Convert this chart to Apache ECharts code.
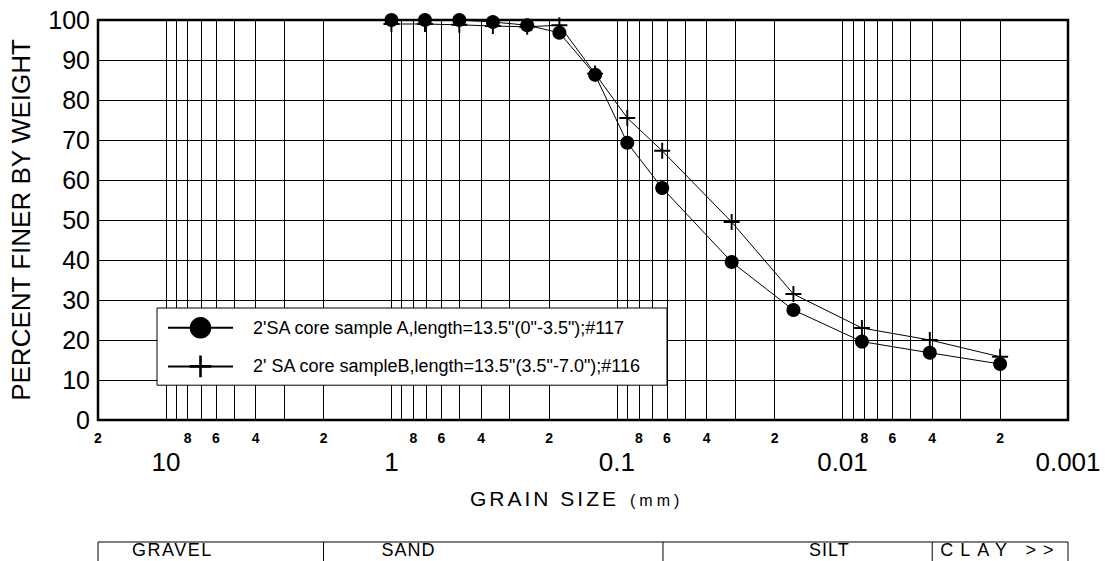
<!DOCTYPE html>
<html><head><meta charset="utf-8">
<script src="https://cdn.jsdelivr.net/npm/echarts@6/dist/echarts.min.js"></script>
<style>html,body{margin:0;padding:0;background:#fff}#c{width:1105px;height:561px}</style>
</head><body><div id="c"></div>
<script>
// ---- data ----
const grainSizeMm = [1.0, 0.71, 0.5, 0.355, 0.25, 0.18, 0.125, 0.09, 0.063, 0.031, 0.0165, 0.0082, 0.0041, 0.002];
const sampleA = [100, 100, 100, 99.5, 98.7, 96.8, 86.3, 69.3, 58, 39.5, 27.5, 19.6, 16.8, 14];
const sampleB = [99, 99, 98.8, 98.5, 98.3, 98.7, 86.6, 75.5, 67.3, 49.5, 31.5, 23, 20, 15.8];
const seriesNames = ["2'SA core sample A,length=13.5\"(0\"-3.5\");#117", "2' SA core sampleB,length=13.5\"(3.5\"-7.0\");#116"];
const gridValues = [10,9,8,7,6,5,4,3,2, 1,0.9,0.8,0.7,0.6,0.5,0.4,0.3,0.2, 0.1,0.09,0.08,0.07,0.06,0.05,0.04,0.03,0.02, 0.01,0.009,0.008,0.007,0.006,0.005,0.004,0.003,0.002, 0.001];
const minorLabelValues = [20, 8,6,4,2, 0.8,0.6,0.4,0.2, 0.08,0.06,0.04,0.02, 0.008,0.006,0.004,0.002];
const majorLabelValues = [10, 1, 0.1, 0.01, 0.001];
const majorLabelText = ['10', '1', '0.1', '0.01', '0.001'];
const xMaxMm = 20, xMinMm = 0.001;
const classBounds = [20, 2, 0.0625, 0.004, 0.001];
const classNames = ['GRAVEL', 'SAND', 'SILT', 'CLAY >>'];
const xTitle = ['GRAIN SIZE', '(mm)'];
const yTitle = 'PERCENT FINER BY WEIGHT';

const FONT = '"Liberation Sans", Arial, sans-serif';
const lg = v => Math.log10(v);
const chart = echarts.init(document.getElementById('c'), null, {renderer: 'svg'});
const plusPath = 'path://M-1.2,-10 L1.2,-10 L1.2,-1.2 L10,-1.2 L10,1.2 L1.2,1.2 L1.2,10 L-1.2,10 L-1.2,1.2 L-10,1.2 L-10,-1.2 L-1.2,-1.2 Z';

const baseX = {
  type: 'value', inverse: true, min: lg(xMinMm), max: lg(xMaxMm),
  gridIndex: 0, position: 'bottom', offset: 0
};

chart.setOption({
  animation: false,
  backgroundColor: '#fff',
  textStyle: {fontFamily: FONT},
  grid: {left: 98, right: 37, top: 20, bottom: 141, show: true, borderColor: '#000', borderWidth: 2.5, backgroundColor: 'transparent'},
  xAxis: [
    Object.assign({}, baseX, {
      axisLine: {show: false},
      axisTick: {show: false, customValues: gridValues.map(lg)},
      splitLine: {show: true, lineStyle: {color: '#000', width: 1}},
      axisLabel: {
        customValues: minorLabelValues.map(lg), margin: 11,
        fontSize: 14, fontWeight: 'bold', color: '#000', fontFamily: FONT,
        formatter: v => { const r = Math.pow(10, v); const p = Math.pow(10, Math.floor(v + 1e-9)); return String(Math.round(r / p)); }
      }
    }),
    Object.assign({}, baseX, {
      axisLine: {show: false},
      axisTick: {show: false, customValues: majorLabelValues.map(lg)},
      splitLine: {show: false},
      axisLabel: {
        customValues: majorLabelValues.map(lg), margin: 29,
        fontSize: 26, color: '#000', fontFamily: FONT,
        formatter: v => { let best = 0; majorLabelValues.forEach((m, i) => { if (Math.abs(lg(m) - v) < Math.abs(lg(majorLabelValues[best]) - v)) best = i; }); return majorLabelText[best]; }
      }
    })
  ],
  yAxis: {
    type: 'value', min: 0, max: 100, interval: 10,
    axisLine: {show: false}, axisTick: {show: false},
    splitLine: {show: true, lineStyle: {color: '#000', width: 1}},
    axisLabel: {fontSize: 25, color: '#000', margin: 8, fontFamily: FONT},
    name: yTitle, nameLocation: 'middle', nameRotate: 90, nameGap: 64,
    nameTextStyle: {fontSize: 26, color: '#000', fontFamily: FONT}
  },
  legend: {
    orient: 'vertical', left: 157, top: 308,
    backgroundColor: '#fff', borderColor: '#000', borderWidth: 1,
    padding: [9, 26, 8, 10], itemGap: 17, itemWidth: 65, itemHeight: 27,
    textStyle: {fontSize: 18, color: '#000', fontFamily: FONT, padding: [0, 0, 0, 15]},
    data: seriesNames
  },
  series: [
    {
      name: seriesNames[0], type: 'line', xAxisIndex: 0,
      data: grainSizeMm.map((d, i) => [lg(d), sampleA[i]]),
      symbol: 'circle', symbolSize: 14,
      itemStyle: {color: '#000'}, lineStyle: {color: '#000', width: 1}, z: 3
    },
    {
      name: seriesNames[1], type: 'line', xAxisIndex: 0,
      data: grainSizeMm.map((d, i) => [lg(d), sampleB[i]]),
      symbol: plusPath, symbolSize: 16,
      itemStyle: {color: '#000'}, lineStyle: {color: '#000', width: 1}, z: 4
    }
  ]
});

// x-axis title and classification table under the chart
const px = classBounds.map(v => chart.convertToPixel({xAxisIndex: 0}, lg(v)));
const tableTop = 542, tableBottom = 575;
const g = [];
g.push({type: 'text', x: 470, y: 498, style: {text: xTitle[0], fontSize: 21, fontFamily: FONT, fill: '#000', verticalAlign: 'middle'}});
g.push({type: 'text', x: 630, y: 500, style: {text: xTitle[1], fontSize: 16, fontFamily: FONT, fill: '#000', verticalAlign: 'middle'}});
g.push({type: 'line', shape: {x1: px[0], y1: tableTop, x2: px[4], y2: tableTop}, style: {stroke: '#000', lineWidth: 1}});
px.forEach(x => g.push({type: 'line', shape: {x1: x, y1: tableTop, x2: x, y2: tableBottom}, style: {stroke: '#000', lineWidth: 1}}));
const textOffsets = [34, 58, 146, 8];
classNames.forEach((n, i) => g.push({
  type: 'text', x: px[i] + textOffsets[i], y: 550,
  style: {text: n, fontSize: 18, fontFamily: FONT, fill: '#000', verticalAlign: 'middle'}
}));
chart.setOption({graphic: g});

// the original print uses spaced lettering for these labels
const spacing = {'GRAIN SIZE': 3, '(mm)': 4, 'GRAVEL': 1.5, 'SAND': 1, 'SILT': 1, 'CLAY >>': 7};
function applySpacing() {
  document.querySelectorAll('#c svg text').forEach(t => {
    const s = spacing[t.textContent];
    if (s !== undefined) t.setAttribute('letter-spacing', s + 'px');
  });
}
applySpacing();
chart.on('finished', applySpacing);
</script>
</body></html>
